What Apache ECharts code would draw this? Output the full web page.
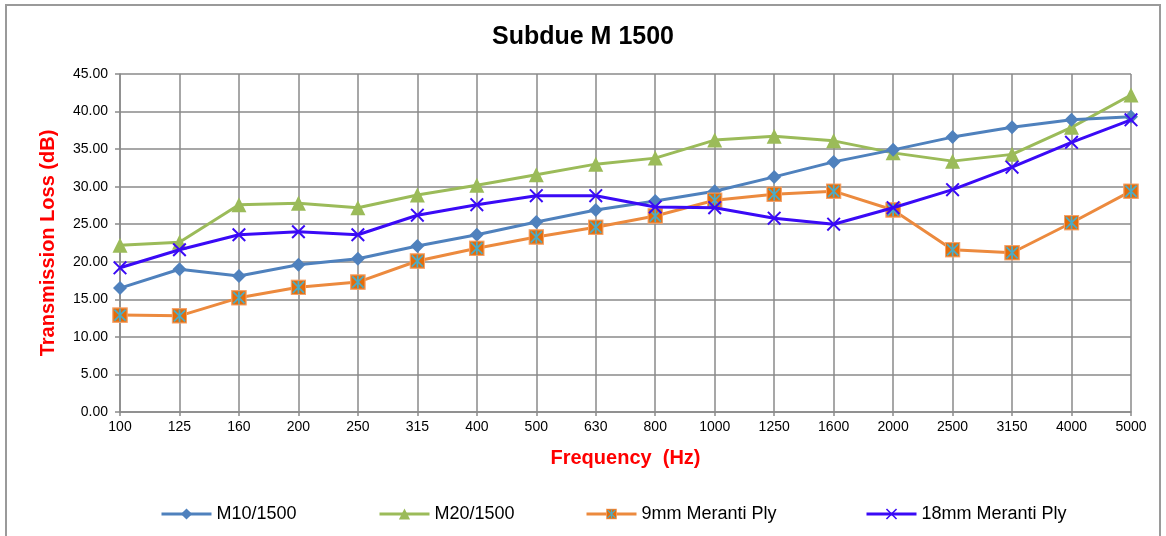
<!DOCTYPE html>
<html>
<head>
<meta charset="utf-8">
<script src="https://cdn.jsdelivr.net/npm/echarts@6/dist/echarts.min.js"></script>
<style>html,body{margin:0;padding:0;background:#fff}#c{width:1166px;height:536px}</style>
</head>
<body>
<div id="c"></div>
<script>
var categories = ['100','125','160','200','250','315','400','500','630','800','1000','1250','1600','2000','2500','3150','4000','5000'];
var m10 = [16.5,19.0,18.1,19.6,20.4,22.1,23.6,25.3,26.9,28.1,29.4,31.3,33.3,34.9,36.6,37.9,38.9,39.3];
var m20 = [22.2,22.6,27.6,27.8,27.2,28.9,30.2,31.6,33.0,33.8,36.2,36.7,36.1,34.5,33.4,34.3,37.9,42.2];
var ply9 = [12.9,12.8,15.2,16.6,17.3,20.1,21.8,23.3,24.6,26.1,28.2,29.0,29.4,26.9,21.6,21.2,25.2,29.4];
var ply18 = [19.2,21.6,23.6,24.0,23.6,26.2,27.6,28.8,28.8,27.3,27.2,25.8,25.0,27.2,29.6,32.6,35.9,38.9];
var seriesNames = ['M10/1500','M20/1500','9mm Meranti Ply','18mm Meranti Ply'];

var sqSvg = '<svg xmlns="http://www.w3.org/2000/svg" width="20" height="20" viewBox="0 0 20 20">' +
  '<rect x="1" y="1" width="18" height="18" fill="#E46C0A" stroke="#F5A36A" stroke-width="1.5"/>' +
  '<path d="M3,3 L17,17 M17,3 L3,17 M10,2 L10,18" stroke="#4BACC6" stroke-width="2.2" fill="none"/></svg>';
var sqSymbol = 'image://data:image/svg+xml;charset=utf-8,' + encodeURIComponent(sqSvg);
var xSymbol = 'path://M1,0 L5,4 L9,0 L10,1 L6,5 L10,9 L9,10 L5,6 L1,10 L0,9 L4,5 L0,1 Z';

var chart = echarts.init(document.getElementById('c'), null, {renderer: 'canvas'});
var font = 'Liberation Sans, Arial, sans-serif';
function legendAt(name, left) {
  return {
    data: [name], left: left, top: 500, itemWidth: 50, itemHeight: 14,
    lineStyle: {width: 3},
    textStyle: {fontFamily: font, fontSize: 18, color: '#000'}
  };
}
chart.setOption({
  animation: false,
  backgroundColor: '#fff',
  graphic: [{
    type: 'rect', shape: {x: 6, y: 5, width: 1154, height: 540},
    style: {fill: 'none', stroke: '#9a9a9a', lineWidth: 2}, silent: true, z: -1
  }],
  title: {
    text: 'Subdue M 1500', left: 'center', top: 20,
    textStyle: {fontFamily: font, fontSize: 25, fontWeight: 'bold', color: '#000'}
  },
  legend: [
    legendAt(seriesNames[0], 155),
    legendAt(seriesNames[1], 373),
    legendAt(seriesNames[2], 580),
    legendAt(seriesNames[3], 860)
  ],
  grid: {left: 120, right: 35, top: 74, bottom: 124, containLabel: false},
  xAxis: {
    type: 'category', data: categories, boundaryGap: false,
    name: 'Frequency  (Hz)', nameLocation: 'middle', nameGap: 36,
    nameTextStyle: {fontFamily: font, fontSize: 20, fontWeight: 'bold', color: '#ff0000'},
    axisLine: {lineStyle: {color: '#8a8a8a', width: 1.5}},
    axisTick: {show: true, inside: false, length: 4, lineStyle: {color: '#8a8a8a', width: 1.5}},
    axisLabel: {fontFamily: font, fontSize: 14, color: '#000', margin: 8, interval: 0},
    splitLine: {show: true, lineStyle: {color: '#8a8a8a', width: 1.5}}
  },
  yAxis: {
    type: 'value', min: 0, max: 45, interval: 5,
    name: 'Transmission Loss (dB)', nameLocation: 'middle', nameGap: 62, nameRotate: 90,
    nameTextStyle: {fontFamily: font, fontSize: 20, fontWeight: 'bold', color: '#ff0000'},
    axisLine: {show: true, lineStyle: {color: '#8a8a8a', width: 1.5}},
    axisTick: {show: true, inside: false, length: 5, lineStyle: {color: '#8a8a8a', width: 1.5}},
    axisLabel: {fontFamily: font, fontSize: 14, color: '#000', margin: 12,
      formatter: function (v) { return v.toFixed(2); }},
    splitLine: {show: true, lineStyle: {color: '#8a8a8a', width: 1.5}}
  },
  series: [
    {name: seriesNames[0], type: 'line', data: m10, symbol: 'diamond', symbolSize: 14,
      lineStyle: {color: '#4F81BD', width: 3}, itemStyle: {color: '#4F81BD'}, z: 3},
    {name: seriesNames[1], type: 'line', data: m20, symbol: 'triangle', symbolSize: 15,
      lineStyle: {color: '#9BBB59', width: 3}, itemStyle: {color: '#9BBB59'}, z: 2},
    {name: seriesNames[2], type: 'line', data: ply9, symbol: sqSymbol, symbolSize: 16,
      lineStyle: {color: '#EC8A3E', width: 3}, itemStyle: {color: '#EC8A3E'}, z: 4},
    {name: seriesNames[3], type: 'line', data: ply18, symbol: xSymbol, symbolSize: 14,
      lineStyle: {color: '#3A0AF6', width: 3}, itemStyle: {color: '#3A0AF6'}, z: 5}
  ]
});
</script>
</body>
</html>
